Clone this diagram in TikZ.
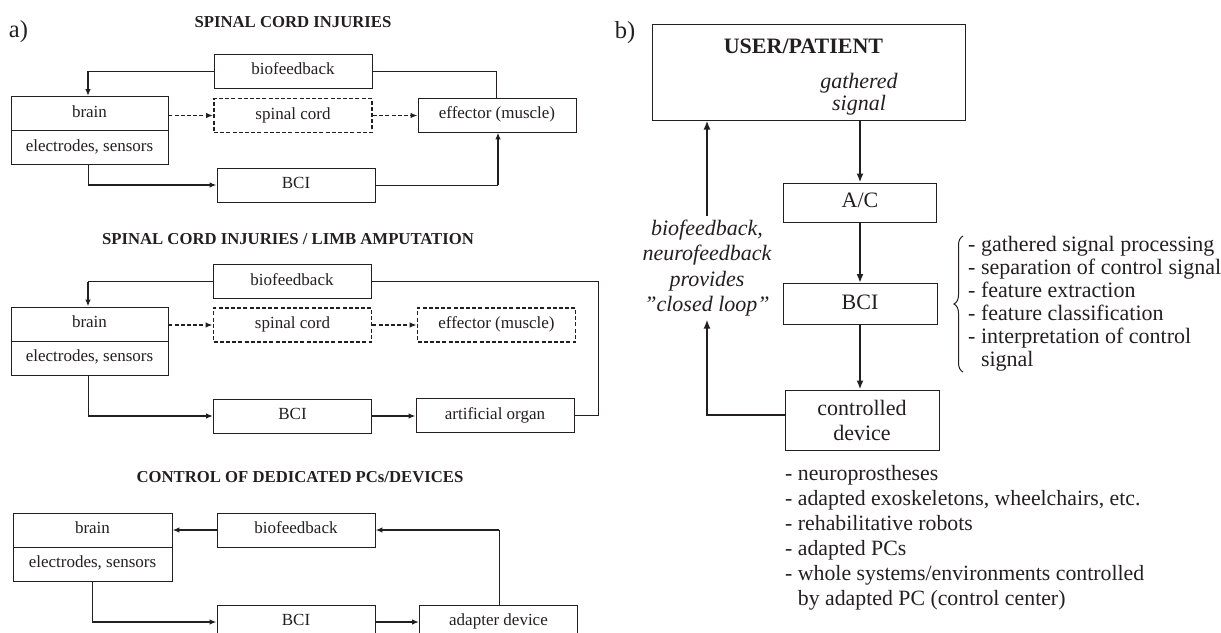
\documentclass[tikz,border=0pt]{standalone}
\usepackage{fontspec}
\setmainfont{Liberation Serif}
\usetikzlibrary{arrows.meta,decorations.pathreplacing}
\definecolor{ink}{HTML}{231F20}
\begin{document}
\begin{tikzpicture}[x=1pt,y=-1pt,
  every node/.style={text=ink},
  abox/.style={draw=ink,line width=0.9pt,minimum width=158pt,minimum height=34pt,inner sep=0pt,
    font=\fontsize{17}{20}\selectfont,text height=11.5pt,text depth=4pt},
  dbox/.style={abox,line width=1.8pt,dash pattern=on 4pt off 2.2pt},
  ttl/.style={font=\fontsize{16.7}{18}\selectfont\bfseries},
  plabel/.style={font=\fontsize{24.5}{26}\selectfont},
  tl/.style={draw=ink,line width=1pt},
  ta/.style={draw=ink,line width=1.9pt,-{Latex[length=7pt,width=5.5pt]}},
  da/.style={draw=ink,line width=1.7pt,dash pattern=on 4pt off 2.2pt,-{Latex[length=7pt,width=5.5pt]}},
  bbox/.style={draw=ink,line width=1pt,minimum width=154pt,inner sep=0pt,
    font=\fontsize{22}{25}\selectfont,text height=15pt,text depth=5pt},
  ba/.style={draw=ink,line width=2.2pt,-{Latex[length=9pt,width=7pt]}},
  listtxt/.style={font=\fontsize{22}{23}\selectfont,align=left,inner sep=0pt}
]
\useasboundingbox (0,0) rectangle (1221,632);

% ---------------- panel a, section 1 ----------------
\node[plabel] (la) at (18.5,32) {a)};
\node[ttl] (t1) at (293,22) {SPINAL CORD INJURIES};
\node[abox] (bio1) at (293,71) {biofeedback};
\node[abox,minimum width=157pt] (brain1) at (89.5,113.5) {brain};
\node[abox,minimum width=157pt] (el1) at (89.5,147.5) {electrodes, sensors};
\node[dbox] (sc1) at (293,115.5) {spinal cord};
\node[abox] (eff1) at (497,115) {effector (muscle)};
\node[abox] (bci1) at (296,185) {BCI};

\coordinate (k1) at (88,71);
\draw[tl] (bio1.west) -- (k1);
\draw[ta] (k1) -- (k1 |- brain1.north);
\draw[da] (brain1.east |- sc1.west) -- (sc1.west);
\draw[da] (sc1.east) -- (sc1.east -| eff1.west);
\coordinate (k2) at (496,71);
\draw[tl] (bio1.east) -- (k2) -- (k2 |- eff1.north);
\coordinate (k3) at (88,185);
\draw[tl] (k3 |- el1.south) -- (k3);
\draw[ta] (k3) -- (bci1.west);
\coordinate (k4) at (498,185);
\draw[tl] (bci1.east) -- (k4);
\draw[ta] (k4) -- (k4 |- eff1.south);

% ---------------- panel a, section 2 ----------------
\node[ttl] (t2) at (288,239) {SPINAL CORD INJURIES / LIMB AMPUTATION};
\node[abox] (bio2) at (292,281.5) {biofeedback};
\node[abox,minimum width=157pt] (brain2) at (89.5,324) {brain};
\node[abox,minimum width=157pt] (el2) at (89.5,358) {electrodes, sensors};
\node[dbox] (sc2) at (292.5,325) {spinal cord};
\node[dbox] (eff2) at (496.5,325) {effector (muscle)};
\node[abox] (bci2) at (292.5,416) {BCI};
\node[abox] (art2) at (495,415.5) {artificial organ};

\coordinate (k5) at (88,281.5);
\draw[tl] (bio2.west) -- (k5);
\draw[ta] (k5) -- (k5 |- brain2.north);
\draw[da] (brain2.east |- sc2.west) -- (sc2.west);
\draw[da] (sc2.east) -- (eff2.west);
\coordinate (k6) at (88,416);
\draw[tl] (k6 |- el2.south) -- (k6);
\draw[ta] (k6) -- (bci2.west);
\draw[ta] (bci2.east) -- (bci2.east -| art2.west);
\coordinate (k7) at (598,415.5);
\coordinate (k8) at (598,281.5);
\draw[tl] (art2.east) -- (k7) -- (k8) -- (bio2.east);

% ---------------- panel a, section 3 ----------------
\node[ttl] (t3) at (300,477) {CONTROL OF DEDICATED PCs/DEVICES};
\node[abox,minimum width=159pt] (brain3) at (92.5,530) {brain};
\node[abox,minimum width=159pt] (el3) at (92.5,564) {electrodes, sensors};
\node[abox] (bio3) at (296,530) {biofeedback};
\node[abox] (bci3) at (296,622) {BCI};
\node[abox] (adp3) at (498.5,622) {adapter device};

\draw[ta] (bio3.west) -- (brain3.east);
\coordinate (k9) at (92,622);
\draw[tl] (k9 |- el3.south) -- (k9);
\draw[ta] (k9) -- (bci3.west);
\draw[ta] (bci3.east) -- (adp3.west);
\coordinate (k10) at (499,530);
\draw[tl] (k10 |- adp3.north) -- (k10);
\draw[ta] (k10) -- (bio3.east);

% ---------------- panel b ----------------
\node[plabel] (lb) at (625,33) {b)};
\node[draw=ink,line width=1pt,minimum width=313pt,minimum height=96pt,inner sep=0pt] (user) at (808.5,72) {};
\node[anchor=base,font=\fontsize{22}{24}\selectfont\bfseries,inner sep=0pt] (utitle) at (803.5,53) {USER/PATIENT};
\node[anchor=north,font=\fontsize{22}{22}\selectfont\itshape,align=center,inner sep=0pt] (gs) at (859,73) {gathered\\signal};

\node[bbox,minimum width=153pt,minimum height=39pt] (ac) at (860,202.5) {A/C};
\node[bbox,minimum height=41pt] (bci) at (860,304) {BCI};
\node[bbox,minimum height=60pt,align=center,text height=,text depth=] (dev) at (862,420) {controlled\\device};

\draw[ba] (ac.north |- user.south) -- (ac.north);
\draw[ba] (ac.south) -- (bci.north);
\draw[ba] (bci.south) -- (bci.south |- dev.north);

\node[font=\fontsize{22}{25.5}\selectfont\itshape,align=center,inner sep=3pt] (fb) at (707,268)
  {biofeedback,\\neurofeedback\\provides\\”closed loop”};
\coordinate (k11) at (707,415);
\draw[ba] (k11 -| dev.west) -- (k11) -- (fb.south);
\draw[ba] (fb.north) -- (fb.north |- user.south);

\coordinate (br1) at (963,372);
\coordinate (br2) at (963,236);
\draw[ink,line width=1pt,decorate,decoration={brace,amplitude=9pt}] (br1) -- (br2);
\node[listtxt,anchor=north west] (bcilist) at (968,236)
  {- gathered signal processing\\
   - separation of control signal\\
   - feature extraction\\
   - feature classification\\
   - interpretation of control\\
   \phantom{- }signal};

\node[listtxt,font=\fontsize{21.8}{25}\selectfont,anchor=north west] (devlist) at (785,465)
  {- neuroprostheses\\
   - adapted exoskeletons, wheelchairs, etc.\\
   - rehabilitative robots\\
   - adapted PCs\\
   - whole systems/environments controlled\\
   \phantom{- }by adapted PC (control center)};
\end{tikzpicture}
\end{document}
